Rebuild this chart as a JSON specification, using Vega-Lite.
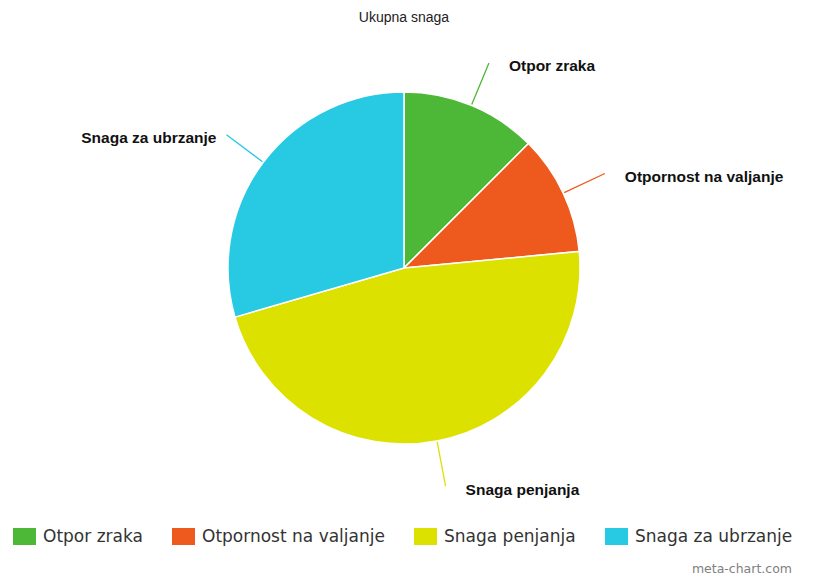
{
  "$schema": "https://vega.github.io/schema/vega-lite/v6.json",
  "autosize": {"type": "none"},
  "width": 808,
  "height": 456,
  "padding": {"left": 0, "top": 40, "right": 21, "bottom": 83},
  "background": "white",
  "config": {"view": {"stroke": null}},
  "title": {"text": "Ukupna snaga", "font": "Liberation Sans", "fontSize": 14, "fontWeight": "normal", "color": "#222222", "anchor": "middle", "offset": 15},
  "data": {"values": [
    {"category": "Otpor zraka", "value": 12.5},
    {"category": "Otpornost na valjanje", "value": 11},
    {"category": "Snaga penjanja", "value": 47},
    {"category": "Snaga za ubrzanje", "value": 29.5}
  ]},
  "transform": [
    {"stack": "value", "groupby": [], "as": ["v0", "v1"]},
    {"calculate": "(datum.v0 + datum.v1) / 2", "as": "mid"}
  ],
  "layer": [
    {
      "mark": {"type": "arc", "outerRadius": 176, "stroke": "white", "strokeWidth": 1.5},
      "encoding": {
        "theta": {"field": "v0", "type": "quantitative", "scale": {"domain": [0, 100]}},
        "theta2": {"field": "v1"},
        "color": {
          "field": "category", "type": "nominal",
          "scale": {"domain": ["Otpor zraka", "Otpornost na valjanje", "Snaga penjanja", "Snaga za ubrzanje"], "range": ["#4db838", "#ee5a1e", "#dde100", "#27c9e3"]},
          "legend": {
            "orient": "none", "direction": "horizontal", "legendX": 16, "legendY": 488,
            "title": "meta-chart.com", "titleOrient": "bottom", "titleAnchor": "end",
            "titleFont": "DejaVu Sans", "titleFontSize": 12.5, "titleFontWeight": "normal", "titleColor": "#808080", "titlePadding": 18,
            "symbolType": "M-1.35,-1H1.35V1H-1.35Z", "symbolSize": 289, "symbolStrokeWidth": 0, "symbolOpacity": 1,
            "labelFont": "DejaVu Sans", "labelFontSize": 17, "labelColor": "#333333", "labelOffset": 10, "labelLimit": 0,
            "columnPadding": 29
          }
        }
      }
    },
    {
      "mark": {"type": "arc", "innerRadius": 177, "outerRadius": 222, "filled": false, "strokeWidth": 1.3},
      "encoding": {
        "theta": {"field": "mid", "type": "quantitative", "scale": {"domain": [0, 100]}},
        "theta2": {"field": "mid"},
        "color": {"field": "category", "type": "nominal", "legend": null}
      }
    },
    {
      "transform": [{"filter": "datum.category != 'Snaga za ubrzanje'"}],
      "mark": {"type": "text", "radius": 222, "align": "left", "baseline": "middle", "dx": 20, "dy": 3.5, "font": "Liberation Sans", "fontWeight": "bold", "fontSize": 15.5, "color": "#111111"},
      "encoding": {
        "theta": {"field": "mid", "type": "quantitative", "stack": false, "scale": {"domain": [0, 100]}},
        "text": {"field": "category"}
      }
    },
    {
      "transform": [{"filter": "datum.category == 'Snaga za ubrzanje'"}],
      "mark": {"type": "text", "radius": 222, "align": "right", "baseline": "middle", "dx": -10, "dy": 3.5, "font": "Liberation Sans", "fontWeight": "bold", "fontSize": 15.5, "color": "#111111"},
      "encoding": {
        "theta": {"field": "mid", "type": "quantitative", "stack": false, "scale": {"domain": [0, 100]}},
        "text": {"field": "category"}
      }
    }
  ]
}
